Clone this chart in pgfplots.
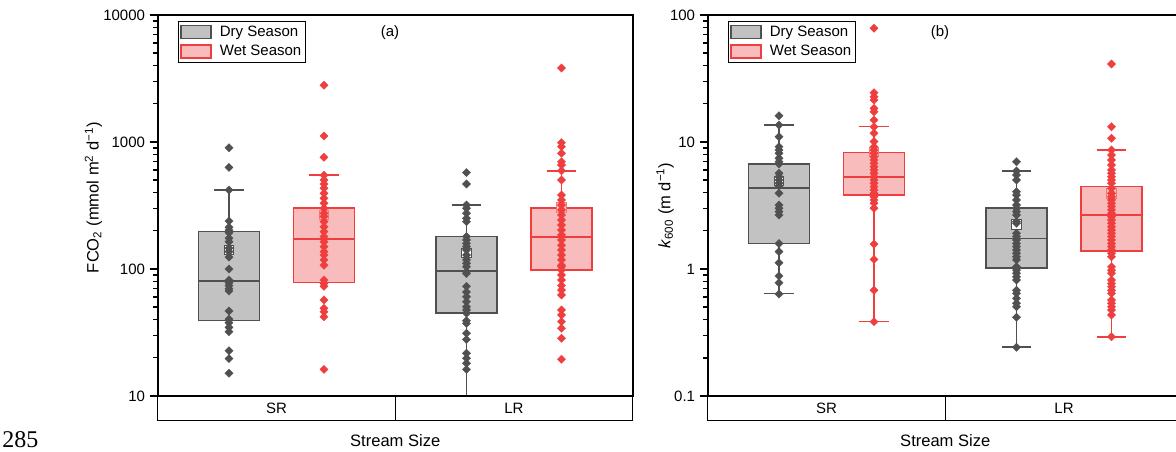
\documentclass[border=0pt]{standalone}
\usepackage{pgfplots}
\pgfplotsset{compat=1.18}
\usepackage{fontspec}
\setmainfont{Liberation Sans}
\newfontfamily\timesfont{Liberation Serif}
\definecolor{dgray}{RGB}{80,80,80}
\definecolor{lgray}{RGB}{194,194,194}
\definecolor{wred}{RGB}{238,62,62}
\definecolor{wfill}{RGB}{249,188,188}
\definecolor{wmean}{RGB}{245,120,120}
\newcommand{\fs}{\fontsize{11.25}{13}\selectfont}
\newcommand{\fl}{\fontsize{12.4}{14}\selectfont}

% box: xl xr q1 med q3 draw fill
\newcommand{\bx}[7]{%
 \addplot[draw=#6, fill=#7, line width=1.2pt] coordinates {(#1,#3) (#2,#3) (#2,#5) (#1,#5)} -- cycle;
 \addplot[draw=#6, line width=1.2pt] coordinates {(#1,#4) (#2,#4)};
}
% whisker with cap: x capl capr from to colour
\newcommand{\wh}[6]{%
 \addplot[draw=#6, line width=1.2pt] coordinates {(#1,#4) (#1,#5)};
 \addplot[draw=#6, line width=1.2pt] coordinates {(#2,#5) (#3,#5)};
}

\pgfplotsset{
 pts/.style={only marks, mark=square*, mark size=2.2pt, mark options={rotate=45, fill=#1, draw=#1, line width=0.2pt}},
 mn/.style 2 args={only marks, mark=square*, mark size=3.5pt, mark options={fill=#2, draw=#1, line width=0.6pt}},
}

\begin{document}
\begin{tikzpicture}
\useasboundingbox (0,0) rectangle (882pt,339pt);

% ================= panel (a) =================
\begin{axis}[at={(118.3pt,42pt)},
  scale only axis, width=356.25pt, height=285.75pt, anchor=south west,
  xmin=0, xmax=2, ymode=log, xtick=\empty,
  axis line style={line width=1.3pt},
  ytick pos=left, tick align=outside,
  major tick length=6pt, minor tick length=3.4pt,
  every tick/.style={black, line width=1.1pt},
  yticklabel style={font=\fs},
  clip mode=individual,
  every axis x label/.style={at={(axis description cs:0.5,0)}, anchor=center, yshift=-33.5pt, font=\fl},
  legend style={at={(axis description cs:0,1)}, anchor=north west, xshift=15.2pt, yshift=-4.5pt,
    draw=black, line width=0.6pt, font=\fs, inner sep=1.2pt, row sep=1.5pt, cells={anchor=west}},
  legend image code/.code={\draw[#1, line width=1.2pt] (0pt,-4.9pt) rectangle (22.5pt,4.9pt); \path (27pt,0pt);},
  ymin=10, ymax=10000,
  ytick={10,100,1000,10000}, yticklabels={10,100,1000,10000},
  xlabel={Stream Size},
  every axis y label/.style={at={([xshift=-48.2pt,yshift=6pt]axis description cs:0,0.5)}, rotate=90, anchor=center, font=\fl},
  ylabel={FCO\textsubscript{2} (mmol m\textsuperscript{2} d\textsuperscript{−1})},
]
\addlegendimage{draw=dgray, fill=lgray}\addlegendentry{Dry Season}
\addlegendimage{draw=wred, fill=wfill}\addlegendentry{Wet Season}

% SR dry
\bx{0.172}{0.428}{39.2}{80.5}{197}{dgray}{lgray}
\wh{0.3}{0.237}{0.363}{197}{419}{dgray}
\addplot[mn={dgray}{white}] coordinates {(0.3,141)};
\addplot[pts=dgray] coordinates {
(0.3,901) (0.3,631) (0.3,419) (0.3,239) (0.3,213) (0.3,203) (0.3,193) (0.3,175) (0.3,164)
(0.3,146) (0.3,137) (0.3,124) (0.3,100) (0.3,82) (0.3,78) (0.3,74) (0.3,70) (0.3,67)
(0.3,46.7) (0.3,40.3) (0.3,37.8) (0.3,34.7) (0.3,32.1) (0.3,22.7) (0.3,19.7) (0.3,15.1)};

% SR wet
\bx{0.572}{0.828}{78.5}{173}{301}{wred}{wfill}
\wh{0.7}{0.637}{0.763}{301}{547}{wred}
\addplot[mn={wmean}{wfill}] coordinates {(0.7,266)};
\addplot[pts=wred] coordinates {
(0.7,2795) (0.7,1114) (0.7,757) (0.7,547) (0.7,502) (0.7,467) (0.7,432) (0.7,394) (0.7,360)
(0.7,329) (0.7,301) (0.7,275) (0.7,259) (0.7,236) (0.7,215) (0.7,197) (0.7,180) (0.7,164)
(0.7,150) (0.7,137) (0.7,129) (0.7,118) (0.7,107) (0.7,82) (0.7,77) (0.7,73) (0.7,57)
(0.7,49) (0.7,46) (0.7,42) (0.7,16.2)};

% LR dry
\bx{1.172}{1.428}{44.8}{96}{180}{dgray}{lgray}
\wh{1.3}{1.237}{1.363}{180}{319}{dgray}
\addplot[draw=dgray, line width=1.2pt] coordinates {(1.3,44.8) (1.3,9.5)};
\addplot[mn={dgray}{white}] coordinates {(1.3,134)};
\addplot[pts=dgray] coordinates {
(1.3,574) (1.3,467) (1.3,319) (1.3,301) (1.3,275) (1.3,251) (1.3,236) (1.3,180) (1.3,169)
(1.3,159) (1.3,150) (1.3,141) (1.3,129) (1.3,118) (1.3,111) (1.3,104) (1.3,95) (1.3,92)
(1.3,73) (1.3,66) (1.3,60.5) (1.3,55.3) (1.3,50.5) (1.3,47.5) (1.3,44.8) (1.3,39.2)
(1.3,37.3) (1.3,31.2) (1.3,27.9) (1.3,21.7) (1.3,19.8) (1.3,18.1) (1.3,16.2)};

% LR wet
\bx{1.572}{1.828}{98}{178}{301}{wred}{wfill}
\wh{1.7}{1.637}{1.763}{301}{594}{wred}
\addplot[mn={wmean}{wfill}] coordinates {(1.7,306)};
\addplot[pts=wred] coordinates {
(1.7,3830) (1.7,988) (1.7,919) (1.7,815) (1.7,700) (1.7,659) (1.7,594) (1.7,502) (1.7,383)
(1.7,349) (1.7,319) (1.7,291) (1.7,266) (1.7,243) (1.7,222) (1.7,203) (1.7,185) (1.7,169)
(1.7,154) (1.7,141) (1.7,129) (1.7,118) (1.7,107) (1.7,104) (1.7,98) (1.7,89.7) (1.7,82)
(1.7,74) (1.7,68.4) (1.7,62.4) (1.7,47.5) (1.7,43.4) (1.7,38.5) (1.7,34.1) (1.7,28.5) (1.7,19.5)};

\node[font=\fs] at (axis description cs:0.489,0.953) {(a)};
\draw[line width=1pt] (axis description cs:0,0) rectangle ([yshift=-18.5pt]axis description cs:1,0);
\draw[line width=1pt] (axis description cs:0.5,0) -- ([yshift=-18.5pt]axis description cs:0.5,0);
\node[font=\fs] at ([yshift=-9.4pt]axis description cs:0.25,0) {SR};
\node[font=\fs] at ([yshift=-9.4pt]axis description cs:0.75,0) {LR};
\end{axis}

% ================= panel (b) =================
\begin{axis}[at={(530.8pt,42pt)},
  scale only axis, width=356.25pt, height=285.75pt, anchor=south west,
  xmin=0, xmax=2, ymode=log, xtick=\empty,
  axis line style={line width=1.3pt},
  ytick pos=left, tick align=outside,
  major tick length=6pt, minor tick length=3.4pt,
  every tick/.style={black, line width=1.1pt},
  yticklabel style={font=\fs},
  clip mode=individual,
  every axis x label/.style={at={(axis description cs:0.5,0)}, anchor=center, yshift=-33.5pt, font=\fl},
  legend style={at={(axis description cs:0,1)}, anchor=north west, xshift=15.2pt, yshift=-4.5pt,
    draw=black, line width=0.6pt, font=\fs, inner sep=1.2pt, row sep=1.5pt, cells={anchor=west}},
  legend image code/.code={\draw[#1, line width=1.2pt] (0pt,-4.9pt) rectangle (22.5pt,4.9pt); \path (27pt,0pt);},
  ymin=0.1, ymax=100,
  ytick={0.1,1,10,100}, yticklabels={0.1,1,10,100},
  xlabel={Stream Size},
  every axis y label/.style={at={([xshift=-32pt]axis description cs:0,0.5)}, rotate=90, anchor=center, font=\fl},
  ylabel={\textit{k}\textsubscript{600} (m d\textsuperscript{−1})},
]
\addlegendimage{draw=dgray, fill=lgray}\addlegendentry{Dry Season}
\addlegendimage{draw=wred, fill=wfill}\addlegendentry{Wet Season}

% SR dry
\bx{0.172}{0.428}{1.59}{4.34}{6.71}{dgray}{lgray}
\wh{0.3}{0.237}{0.363}{6.71}{13.6}{dgray}
\wh{0.3}{0.237}{0.363}{1.59}{0.643}{dgray}
\addplot[mn={dgray}{white}] coordinates {(0.3,4.93)};
\addplot[pts=dgray] coordinates {
(0.3,16.1) (0.3,13.6) (0.3,11.0) (0.3,9.19) (0.3,8.65) (0.3,8.15) (0.3,7.44) (0.3,7.00) (0.3,6.71)
(0.3,5.67) (0.3,5.33) (0.3,5.02) (0.3,4.73) (0.3,4.51) (0.3,3.95) (0.3,3.19) (0.3,3.01) (0.3,2.83)
(0.3,2.66) (0.3,1.59) (0.3,1.37) (0.3,1.12) (0.3,0.88) (0.3,0.78) (0.3,0.636)};

% SR wet
\bx{0.572}{0.828}{3.83}{5.33}{8.24}{wred}{wfill}
\wh{0.7}{0.637}{0.763}{8.24}{13.2}{wred}
\wh{0.7}{0.637}{0.763}{3.83}{0.385}{wred}
\addplot[mn={wmean}{wfill}] coordinates {(0.7,8.4)};
\addplot[pts=wred] coordinates {
(0.7,78.6) (0.7,24.4) (0.7,22.7) (0.7,21.4) (0.7,18.4) (0.7,17.3) (0.7,14.9) (0.7,13.2) (0.7,11.7)
(0.7,10.1) (0.7,9.19) (0.7,8.65) (0.7,8.15) (0.7,7.66) (0.7,7.21) (0.7,6.79) (0.7,6.39) (0.7,6.02)
(0.7,5.67) (0.7,5.33) (0.7,5.02) (0.7,4.73) (0.7,4.45) (0.7,4.19) (0.7,3.95) (0.7,3.71) (0.7,3.49)
(0.7,3.29) (0.7,3.01) (0.7,1.57) (0.7,1.19) (0.7,0.68) (0.7,0.385)};

% LR dry
\bx{1.172}{1.428}{1.02}{1.74}{3.01}{dgray}{lgray}
\wh{1.3}{1.237}{1.363}{3.01}{5.91}{dgray}
\wh{1.3}{1.237}{1.363}{1.02}{0.242}{dgray}
\addplot[mn={dgray}{white}] coordinates {(1.3,2.25)};
\addplot[pts=dgray] coordinates {
(1.3,7.00) (1.3,5.91) (1.3,5.50) (1.3,5.02) (1.3,4.06) (1.3,3.83) (1.3,3.49) (1.3,3.19) (1.3,3.01)
(1.3,2.83) (1.3,2.66) (1.3,2.36) (1.3,2.29) (1.3,1.91) (1.3,1.80) (1.3,1.69) (1.3,1.59) (1.3,1.50)
(1.3,1.41) (1.3,1.33) (1.3,1.25) (1.3,1.18) (1.3,1.04) (1.3,0.98) (1.3,0.925) (1.3,0.87) (1.3,0.82)
(1.3,0.68) (1.3,0.643) (1.3,0.587) (1.3,0.537) (1.3,0.505) (1.3,0.417) (1.3,0.242)};

% LR wet
\bx{1.572}{1.828}{1.39}{2.66}{4.45}{wred}{wfill}
\wh{1.7}{1.637}{1.763}{4.45}{8.65}{wred}
\wh{1.7}{1.637}{1.763}{1.39}{0.293}{wred}
\addplot[mn={wmean}{wfill}] coordinates {(1.7,3.95)};
\addplot[pts=wred] coordinates {
(1.7,41.1) (1.7,13.2) (1.7,10.7) (1.7,8.65) (1.7,7.91) (1.7,7.21) (1.7,6.59) (1.7,6.02) (1.7,5.67)
(1.7,5.33) (1.7,5.02) (1.7,4.73) (1.7,4.32) (1.7,3.95) (1.7,3.71) (1.7,3.49) (1.7,3.29) (1.7,3.10)
(1.7,2.92) (1.7,2.75) (1.7,2.58) (1.7,2.43) (1.7,2.29) (1.7,2.15) (1.7,2.03) (1.7,1.91) (1.7,1.80)
(1.7,1.69) (1.7,1.59) (1.7,1.50) (1.7,1.41) (1.7,1.33) (1.7,1.25) (1.7,1.04) (1.7,0.98) (1.7,0.925)
(1.7,0.82) (1.7,0.77) (1.7,0.726) (1.7,0.68) (1.7,0.643) (1.7,0.570) (1.7,0.537) (1.7,0.505)
(1.7,0.475) (1.7,0.434) (1.7,0.293)};

\node[font=\fs] at (axis description cs:0.489,0.953) {(b)};
\draw[line width=1pt] (axis description cs:0,0) rectangle ([yshift=-18.5pt]axis description cs:1,0);
\draw[line width=1pt] (axis description cs:0.5,0) -- ([yshift=-18.5pt]axis description cs:0.5,0);
\node[font=\fs] at ([yshift=-9.4pt]axis description cs:0.25,0) {SR};
\node[font=\fs] at ([yshift=-9.4pt]axis description cs:0.75,0) {LR};
\end{axis}

\node[anchor=base west, inner sep=0pt, font=\timesfont\fontsize{18}{20}\selectfont] at (1.5pt,3pt) {285};
\end{tikzpicture}
\end{document}
